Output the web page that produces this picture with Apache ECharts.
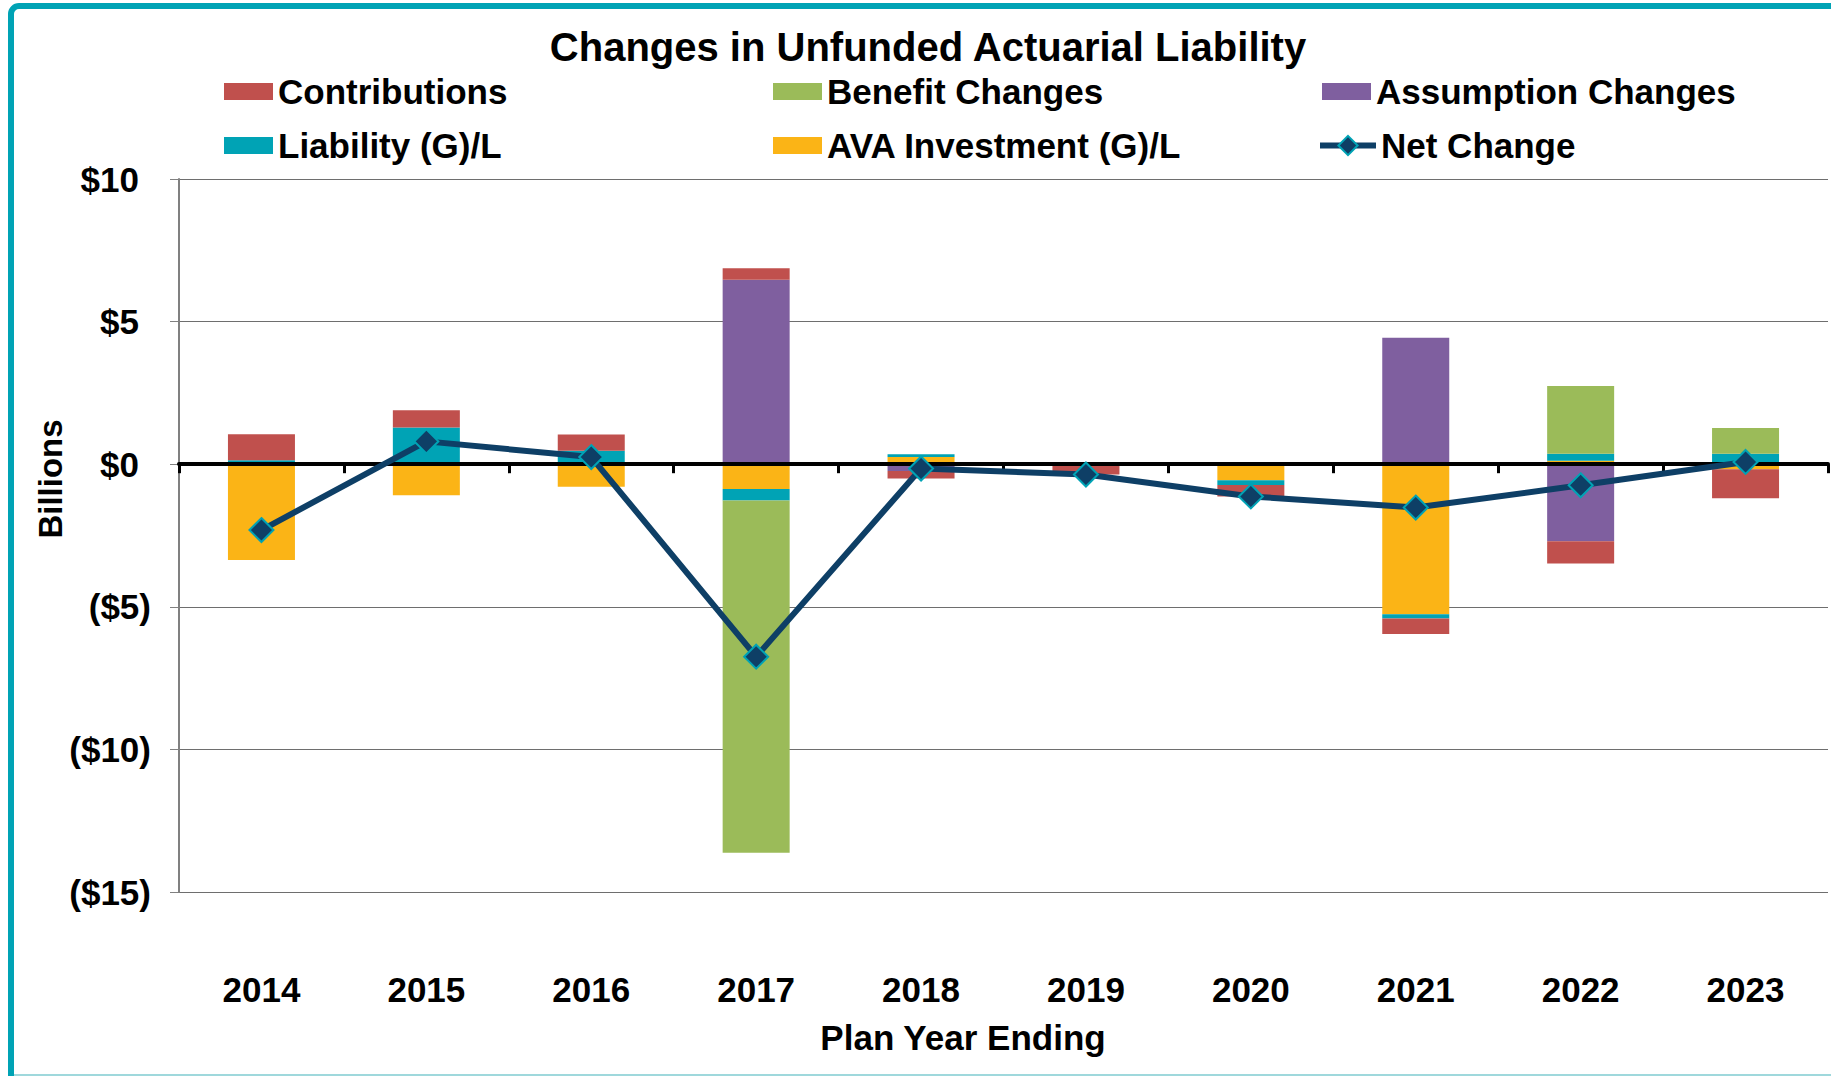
<!DOCTYPE html>
<html>
<head>
<meta charset="utf-8">
<script src="https://cdn.jsdelivr.net/npm/echarts@6/dist/echarts.min.js"></script>
<style>
  body { margin: 0; background: #fff; }
  #chart { width: 1831px; height: 1076px; }
</style>
</head>
<body>
<div id="chart"></div>
<script>
// values in $ billions
var years = ['2014', '2015', '2016', '2017', '2018', '2019', '2020', '2021', '2022', '2023'];
var contributions = [0.91, 0.60, 0.57, 0.40, -0.26, -0.36, -0.40, -0.54, -0.78, -1.01];
var benefitChanges = [0, 0, 0, -12.35, 0, 0, 0, 0, 2.37, 0.90];
var assumptionChanges = [0, 0, 0, 6.47, -0.24, 0, 0, 4.43, -2.70, 0];
var liabilityGL = [0.14, 1.29, 0.47, -0.40, 0.10, 0, -0.17, -0.15, 0.25, 0.37];
var avaInvestmentGL = [-3.36, -1.09, -0.79, -0.87, 0.25, 0, -0.56, -5.26, 0.12, -0.18];
var netChange = [-2.31, 0.80, 0.25, -6.75, -0.15, -0.36, -1.13, -1.52, -0.74, 0.08];
var yTicks = [-15, -10, -5, 0, 5, 10];

var FONT = '"Liberation Sans", Arial, sans-serif';
var C = {
  red: '#C0504D', green: '#9BBB59', purple: '#7F5F9F',
  teal: '#00A3B5', yellow: '#FBB416', navy: '#0E3F66'
};

// excel style: negatives in parentheses, positives leave room for the ")"
function money(v) {
  if (v < 0) return '($' + (-v) + ')';
  return '{p|$' + v + '}';
}

function legendItem(name, left, top, icon, w, h) {
  return {
    data: [{ name: name, icon: icon }], left: left, top: top, padding: 0,
    itemWidth: w || 49, itemHeight: h || 17,
    selectedMode: false,
    lineStyle: { width: 6 },
    textStyle: { fontFamily: FONT, fontSize: 35, fontWeight: 'bold', color: '#000', lineHeight: 35 }
  };
}

function barSeries(name, data, color) {
  return {
    name: name, type: 'bar', stack: 'ual', data: data,
    barWidth: 67, itemStyle: { color: color }, z: 2
  };
}

var labelFont = { fontFamily: FONT, fontSize: 35, fontWeight: 'bold', color: '#000' };

var chart = echarts.init(document.getElementById('chart'), null, { renderer: 'svg' });
chart.setOption({
  animation: false,
  backgroundColor: '#fff',
  grid: { left: 179, right: 3, top: 179, bottom: 184 },
  legend: [
    legendItem('Contributions', 224, 74, 'rect'),
    legendItem('Benefit Changes', 773, 74, 'rect'),
    legendItem('Assumption Changes', 1322, 74, 'rect'),
    legendItem('Liability (G)/L', 224, 128, 'rect'),
    legendItem('AVA Investment (G)/L', 773, 128, 'rect'),
    legendItem('Net Change', 1317, 128, undefined, 56, 24)
  ],
  xAxis: [
    {
      type: 'category', data: years, position: 'bottom', z: 3,
      axisLine: { show: true, onZero: true, lineStyle: { color: '#000', width: 4 } },
      axisTick: { show: true, length: 9, lineStyle: { color: '#000', width: 3 } },
      axisLabel: { show: false },
      splitLine: { show: false }
    },
    {
      type: 'category', data: years, position: 'bottom',
      axisLine: { show: false, onZero: false },
      axisTick: { show: false },
      axisLabel: Object.assign({ margin: 80 }, labelFont),
      splitLine: { show: false }
    }
  ],
  yAxis: {
    type: 'value', min: yTicks[0], max: yTicks[yTicks.length - 1], interval: 5,
    axisLine: { show: true, lineStyle: { color: '#808080', width: 2 } },
    axisTick: { show: true, length: 9, lineStyle: { color: '#808080', width: 1 } },
    axisLabel: Object.assign({
      margin: 28, formatter: money,
      rich: { p: Object.assign({ padding: [0, 12, 0, 0] }, labelFont) }
    }, labelFont),
    splitLine: { show: true, lineStyle: { color: '#6e6e6e', width: 1 } }
  },
  series: [
    // stacking order as in the original (closest to zero first)
    barSeries('Assumption Changes', assumptionChanges, C.purple),
    barSeries('AVA Investment (G)/L', avaInvestmentGL, C.yellow),
    barSeries('Liability (G)/L', liabilityGL, C.teal),
    barSeries('Benefit Changes', benefitChanges, C.green),
    barSeries('Contributions', contributions, C.red),
    {
      name: 'Net Change', type: 'line', data: netChange, z: 5,
      symbol: 'diamond', symbolSize: 24,
      lineStyle: { color: C.navy, width: 6 },
      itemStyle: { color: C.navy, borderColor: C.teal, borderWidth: 2 }
    }
  ],
  graphic: [
    {
      type: 'rect', silent: true, z: -1,
      shape: { x: 11, y: 6, width: 1840, height: 1100, r: 8 },
      style: { fill: 'none', stroke: C.teal, lineWidth: 6 }
    },
    {
      type: 'line', silent: true,
      shape: { x1: 14, y1: 1075, x2: 1831, y2: 1075 },
      style: { stroke: '#9fd8dc', lineWidth: 2 }
    },
    {
      type: 'text', x: 928, y: 47,
      style: {
        text: 'Changes in Unfunded Actuarial Liability',
        font: 'bold 40px ' + FONT, fill: '#000',
        align: 'center', verticalAlign: 'middle',
        textAlign: 'center', textVerticalAlign: 'middle'
      }
    },
    {
      type: 'text', x: 50, y: 479, rotation: Math.PI / 2,
      style: {
        text: 'Billions',
        font: 'bold 33px ' + FONT, fill: '#000',
        align: 'center', verticalAlign: 'middle',
        textAlign: 'center', textVerticalAlign: 'middle'
      }
    },
    {
      type: 'text', x: 963, y: 1037,
      style: {
        text: 'Plan Year Ending',
        font: 'bold 35px ' + FONT, fill: '#000',
        align: 'center', verticalAlign: 'middle',
        textAlign: 'center', textVerticalAlign: 'middle'
      }
    }
  ]
});
</script>
</body>
</html>
